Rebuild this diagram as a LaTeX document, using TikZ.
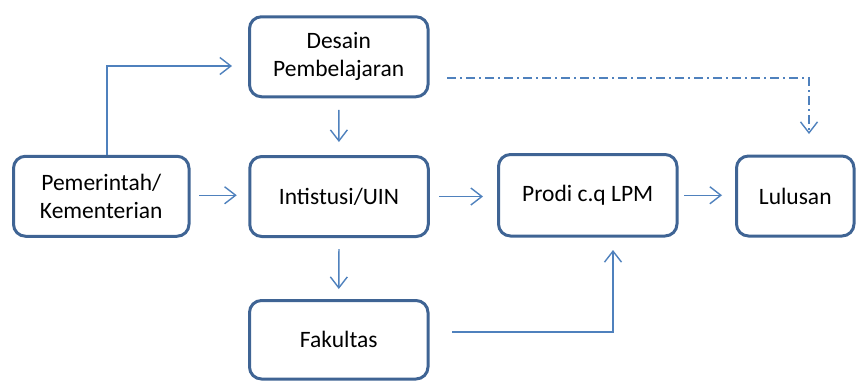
\documentclass[tikz,border=0pt]{standalone}
\usepackage{fontspec}
\setmainfont{Carlito}
\usetikzlibrary{arrows.meta}
\definecolor{boxblue}{HTML}{3F6494}
\definecolor{arrblue}{HTML}{4F81BD}
\begin{document}
\begin{tikzpicture}[x=1pt,y=-1pt,
  box/.style={draw=boxblue, line width=3pt, rounded corners=12pt, align=center,
    font=\fontsize{23.5}{28}\selectfont, minimum width=178.5pt, minimum height=80pt, inner sep=0pt},
  arr/.style={draw=arrblue, line width=1.4pt, -{Straight Barb[length=11pt,width=17pt,line width=1.4pt]}},
  dd/.style={arr, dash pattern=on 9pt off 4pt on 2pt off 4pt}]
\useasboundingbox (0,0) rectangle (856,381);
\node[box] (des) at (338.75,56.75) {Desain\\Pembelajaran};
\node[box, minimum width=175.5pt] (pem) at (101.25,196.25) {Pemerintah/\\Kementerian};
\node[box] (int) at (339,196.5) {Intistusi/UIN};
\node[box, minimum height=81.5pt] (pro) at (587.75,195.25) {Prodi c.q LPM};
\node[box, minimum width=117.5pt] (lul) at (795.25,196) {Lulusan};
\node[box, minimum height=78.5pt] (fak) at (338.75,339.75) {Fakultas};

\draw[arr, shorten <=8.5pt, shorten >=11.5pt] ([yshift=1pt]pem.east) -- ([yshift=1pt]pem.east -| int.west);
\draw[arr, shorten <=11.5pt, shorten >=13pt] (des.south) -- (int.north);
\draw[arr, shorten <=9.5pt, shorten >=14pt] (int.east) -- (int.east -| pro.west);
\draw[arr, shorten <=5.5pt, shorten >=13pt] (pro.east) -- (pro.east -| lul.west);
\draw[arr, shorten <=11pt, shorten >=10pt] (int.south) -- (fak.north);
\draw[arr, shorten <=22.5pt, shorten >=12.5pt] ([yshift=7.75pt]fak.east) -| ([xshift=25.25pt]pro.south);
\draw[arr, shorten >=16pt] ([xshift=5.75pt]pem.north) |- ([yshift=-9.25pt]des.west);
\draw[dd, shorten <=17.5pt, shorten >=20.5pt] ([yshift=-21.25pt]des.east) -| ([xshift=13.75pt]lul.north);
\end{tikzpicture}
\end{document}
